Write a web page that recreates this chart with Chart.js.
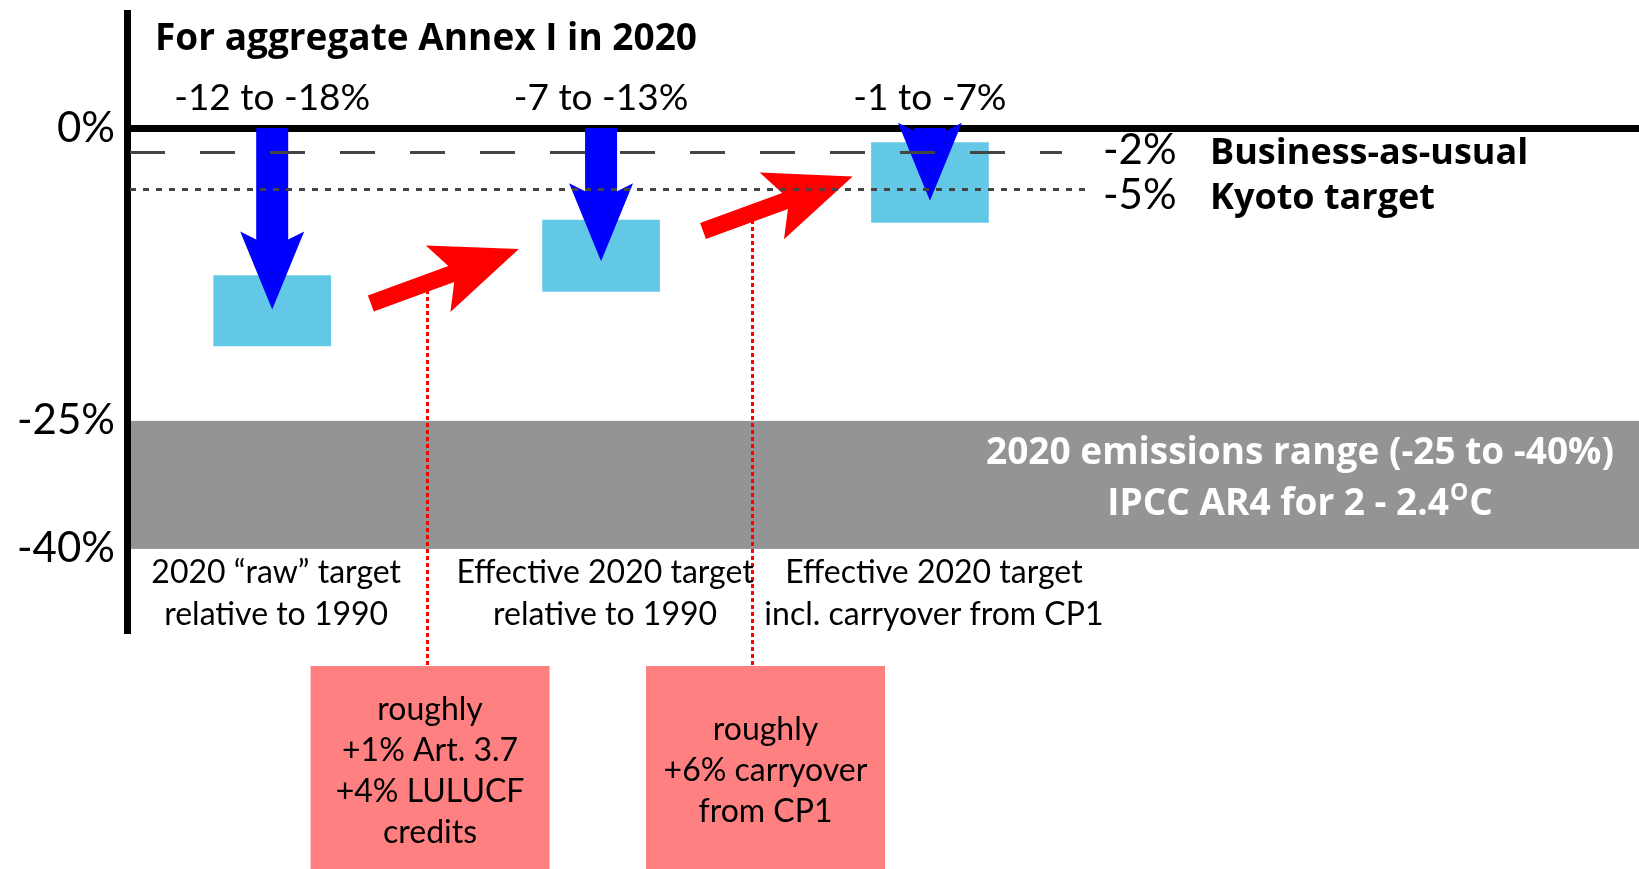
<!DOCTYPE html>
<html>
<head>
<meta charset="utf-8">
<script src="https://cdn.jsdelivr.net/npm/chart.js@4.4.1/dist/chart.umd.min.js"></script>
<style>
  html, body { margin: 0; padding: 0; background: #fff; }
</style>
</head>
<body>
<canvas id="annexChart" width="1639" height="869"></canvas>
<script>
// columns
const categories = [
    ['2020 \u201craw\u201d target', 'relative to 1990'],
    ['Effective 2020 target', 'relative to 1990'],
    ['Effective 2020 target', 'incl. carryover from CP1'],
];
const rangeLabels = ['-12 to -18%', '-7 to -13%', '-1 to -7%'];
const boxTop = [-12.2, -7.6, -1.2];
const boxBottom = [-18, -13.5, -7.8];
const arrowTip = [-15, -11, -6];

// adjustments between the columns (red arrows + notes)
const adjFromX = [0.3, 1.31];
const adjFromY = [-14.5, -8.5];
const adjToX = [0.75, 1.765];
const adjToY = [-10, -4];
const adjLinkX = [0.47, 1.46];
const adjNoteX = [0.48, 1.5];
const adjNotes = [
    ['roughly', '+1% Art. 3.7', '+4% LULUCF', 'credits'],
    ['roughly', '+6% carryover', 'from CP1'],
];

// reference levels
const refValues = [-2, -5];
const refPercent = ['-2%', '-5%'];
const refNames = ['Business-as-usual', 'Kyoto target'];

// IPCC AR4 range
const rangeHigh = -25;
const rangeLow = -40;

const yTicks = [0, -25, -40];

// the drawing squeezes the axis below -18% and again below -25%
const axisBreaks = [-18, -25];
const axisStretch = [1, 0.885, 0.705];

const FONT = 'Lato, "Open Sans", sans-serif';
const BOLD_FONT = '"Open Sans", Lato, sans-serif';

class SchematicScale extends Chart.LinearScale {
    warp(v) {
        let u = 0;
        let hi = this.max;
        const edges = axisBreaks.concat([-Infinity]);
        for (let i = 0; i < edges.length; i++) {
            const lo = edges[i];
            if (v >= lo) {
                return u + (hi - v) * axisStretch[i];
            }
            u += (hi - lo) * axisStretch[i];
            hi = lo;
        }
        return u;
    }

    getPixelForValue(value) {
        return this.top + (this.bottom - this.top) * this.warp(value) / this.warp(this.min);
    }

    getValueForPixel(pixel) {
        let lo = this.min;
        let hi = this.max;
        for (let i = 0; i < 40; i++) {
            const mid = (lo + hi) / 2;
            if (this.getPixelForValue(mid) > pixel) lo = mid; else hi = mid;
        }
        return (lo + hi) / 2;
    }
}
SchematicScale.id = 'schematic';
SchematicScale.defaults = {};
Chart.register(SchematicScale);

function drawArrow(ctx, x0, y0, x1, y1, shaftW, headLen, headW, notch, color) {
    const dx = x1 - x0;
    const dy = y1 - y0;
    const len = Math.hypot(dx, dy);
    const ux = dx / len;
    const uy = dy / len;
    const nx = -uy;
    const ny = ux;
    const join = Math.min(headLen - notch, len);
    const jx = x1 - ux * join;
    const jy = y1 - uy * join;
    const bx = x1 - ux * headLen;
    const by = y1 - uy * headLen;
    const sx = len > join ? x0 : jx;
    const sy = len > join ? y0 : jy;
    ctx.save();
    ctx.fillStyle = color;
    ctx.beginPath();
    ctx.moveTo(sx + nx * shaftW / 2, sy + ny * shaftW / 2);
    ctx.lineTo(jx + nx * shaftW / 2, jy + ny * shaftW / 2);
    ctx.lineTo(bx + nx * headW / 2, by + ny * headW / 2);
    ctx.lineTo(x1, y1);
    ctx.lineTo(bx - nx * headW / 2, by - ny * headW / 2);
    ctx.lineTo(jx - nx * shaftW / 2, jy - ny * shaftW / 2);
    ctx.lineTo(sx - nx * shaftW / 2, sy - ny * shaftW / 2);
    ctx.closePath();
    ctx.fill();
    ctx.restore();
}

function text(ctx, str, x, y, size, opts = {}) {
    ctx.save();
    ctx.font = opts.bold ? 'bold ' + size + 'px ' + BOLD_FONT : size + 'px ' + FONT;
    ctx.fillStyle = opts.color || '#000';
    ctx.textAlign = opts.align || 'left';
    ctx.textBaseline = 'alphabetic';
    ctx.fillText(str, x, y);
    ctx.restore();
}

const decor = {
    id: 'annexDecor',
    beforeDraw(chart) {
        const { ctx, chartArea: area } = chart;
        const y = chart.scales.y;
        ctx.save();
        ctx.fillStyle = '#fff';
        ctx.fillRect(0, 0, chart.width, chart.height);
        ctx.fillStyle = '#949494';
        const top = y.getPixelForValue(rangeHigh);
        ctx.fillRect(area.left, top, area.right - area.left, y.getPixelForValue(rangeLow) - top);
        ctx.restore();
    },
    beforeDatasetsDraw(chart) {
        const { ctx, chartArea: area } = chart;
        const x = chart.scales.x;
        const y = chart.scales.y;
        ctx.save();
        ctx.strokeStyle = '#ff0000';
        ctx.lineWidth = 3;
        ctx.setLineDash([4, 3]);
        adjLinkX.forEach((lx, i) => {
            const t = (lx - adjFromX[i]) / (adjToX[i] - adjFromX[i]);
            const yv = adjFromY[i] + t * (adjToY[i] - adjFromY[i]);
            const px = Math.round(x.getPixelForValue(lx)) + 0.5;
            ctx.beginPath();
            ctx.moveTo(px, y.getPixelForValue(yv));
            ctx.lineTo(px, area.bottom + 36);
            ctx.stroke();
        });
        ctx.restore();
    },
    afterDatasetsDraw(chart) {
        const { ctx, chartArea: area } = chart;
        const x = chart.scales.x;
        const y = chart.scales.y;

        arrowTip.forEach((tip, i) => {
            const px = x.getPixelForValue(i);
            drawArrow(ctx, px, y.getPixelForValue(0), px, y.getPixelForValue(tip), 32, 78, 64, 8, '#0000ff');
        });

        adjFromX.forEach((fx, i) => {
            drawArrow(ctx,
                x.getPixelForValue(fx), y.getPixelForValue(adjFromY[i]),
                x.getPixelForValue(adjToX[i]), y.getPixelForValue(adjToY[i]),
                17, 86, 71, 14, '#ff0000');
        });

        // dashed / dotted reference levels
        const lineEnd = [1062, 1088];
        const dashes = [[35, 35], [6, 7]];
        ctx.save();
        ctx.strokeStyle = '#444';
        ctx.lineWidth = 3;
        refValues.forEach((v, i) => {
            const py = Math.round(y.getPixelForValue(v)) + 0.5;
            ctx.setLineDash(dashes[i]);
            ctx.beginPath();
            ctx.moveTo(area.left + 3, py);
            ctx.lineTo(lineEnd[i], py);
            ctx.stroke();
        });
        ctx.restore();
    },
    afterDraw(chart) {
        const { ctx, chartArea: area } = chart;
        const x = chart.scales.x;

        text(ctx, 'For aggregate Annex I in 2020', 155, 50, 37, { bold: true });

        rangeLabels.forEach((lbl, i) => {
            text(ctx, lbl, x.getPixelForValue(i), 110, 37, { align: 'center' });
        });

        const refBase = [164, 209];
        refPercent.forEach((p, i) => {
            text(ctx, p, 1103, refBase[i], 42);
            text(ctx, refNames[i], 1210, refBase[i], 36, { bold: true });
        });

        // text in the grey band
        const cx = 1300;
        text(ctx, '2020 emissions range (-25 to -40%)', cx, 464, 37, { bold: true, color: '#fff', align: 'center' });
        ctx.save();
        const main = 'IPCC AR4 for 2 - 2.4';
        ctx.font = 'bold 37px ' + BOLD_FONT;
        const wMain = ctx.measureText(main).width;
        const wC = ctx.measureText('C').width;
        ctx.font = 'bold 23px ' + BOLD_FONT;
        const wO = ctx.measureText('O').width + 2;
        const start = cx - (wMain + wO + wC) / 2;
        ctx.restore();
        text(ctx, main, start, 515, 37, { bold: true, color: '#fff' });
        text(ctx, 'O', start + wMain + 1, 500, 23, { bold: true, color: '#fff' });
        text(ctx, 'C', start + wMain + wO, 515, 37, { bold: true, color: '#fff' });

        categories.forEach((lines, i) => {
            lines.forEach((ln, j) => {
                text(ctx, ln, x.getPixelForValue(i) + 4, 583 + j * 42, 32, { align: 'center' });
            });
        });

        // pink notes under the chart
        adjNotes.forEach((lines, i) => {
            const cxN = x.getPixelForValue(adjNoteX[i]);
            const top = area.bottom + 36;
            ctx.save();
            ctx.fillStyle = '#ff8080';
            ctx.fillRect(cxN - 119.5, top, 239, chart.height - top);
            ctx.restore();
            const first = 781 - (lines.length - 1) / 2 * 41;
            lines.forEach((ln, j) => {
                text(ctx, ln, cxN, first + j * 41, 32, { align: 'center' });
            });
        });
    },
};

new Chart(document.getElementById('annexChart'), {
    type: 'bar',
    data: {
        datasets: [{
            data: categories.map((c, i) => ({ x: i, y: [boxTop[i], boxBottom[i]] })),
            backgroundColor: '#63c8e6',
            borderWidth: 0,
            barThickness: 117,
        }],
    },
    options: {
        responsive: false,
        animation: false,
        devicePixelRatio: 1,
        layout: { padding: { top: 13, bottom: 869 - 630, left: 0, right: 0 } },
        plugins: {
            legend: { display: false },
            tooltip: { enabled: false },
        },
        scales: {
            x: {
                type: 'linear',
                display: false,
                offset: false,
                min: -0.4415,
                max: 4.156,
            },
            y: {
                type: 'schematic',
                min: -49.5,
                max: 9.5,
                afterFit: (scale) => {
                    scale.width = 127;
                    scale.paddingTop = 0;
                    scale.paddingBottom = 0;
                },
                afterBuildTicks: (scale) => { scale.ticks = yTicks.map((v) => ({ value: v })); },
                ticks: {
                    callback: (v) => v + '%',
                    color: '#000',
                    font: { family: FONT, size: 42 },
                    padding: 12,
                },
                grid: {
                    color: (c) => (c.tick && c.tick.value === 0 ? '#000' : 'rgba(0,0,0,0)'),
                    lineWidth: 7,
                    drawTicks: false,
                },
                border: { display: true, color: '#000', width: 7 },
            },
        },
    },
    plugins: [decor],
});
</script>
</body>
</html>
